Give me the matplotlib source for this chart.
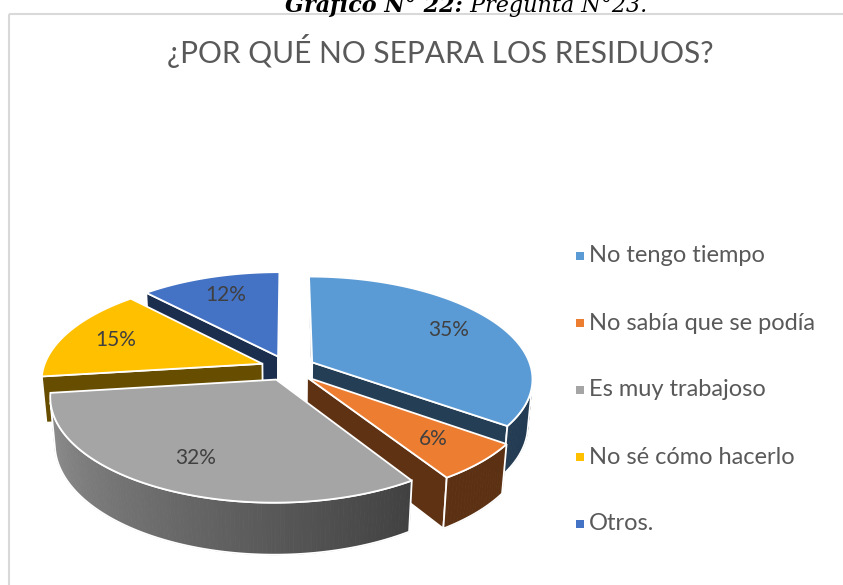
import numpy as np
import matplotlib
matplotlib.use("Agg")
import matplotlib.pyplot as plt
from matplotlib.patches import Polygon, Rectangle
from matplotlib.colors import to_rgb

# data
categories = ["No tengo tiempo", "No sabía que se podía", "Es muy trabajoso",
              "No sé cómo hacerlo", "Otros."]
percent = [35, 6, 32, 15, 12]
colors = ["#5B9BD5", "#ED7D31", "#A5A5A5", "#FFC000", "#4472C4"]
title = "¿POR QUÉ NO SEPARA LOS RESIDUOS?"
caption_bold = "Gráfico N° 22:"
caption_rest = " Pregunta N°23."

# 3d view of the pie (pixel units)
CX, CY = 288, 368
D0 = 5.83
PHI = np.radians(27.3)
F = 1277
H = 0.24
EXPLODE = 0.125


def project(u, v, z):
    d = D0 + v * np.cos(PHI) - z * np.sin(PHI)
    y = v * np.sin(PHI) + z * np.cos(PHI)
    return CX + F * u / d, CY - F * y / d


def depth(u, v, z):
    return D0 + v * np.cos(PHI) - z * np.sin(PHI)


def area(pts):
    x = np.array([p[0] for p in pts])
    y = np.array([p[1] for p in pts])
    return 0.5 * (np.dot(x, np.roll(y, -1)) - np.dot(y, np.roll(x, -1)))


def dark(col, k):
    return tuple(c * k for c in to_rgb(col))


def side_factor(t):
    t = (t + 180) % 360 - 180
    return float(np.clip(0.93 - (t + 180) / 123 * 0.54, 0.39, 0.93))


plt.rcParams["font.family"] = ["Lato", "DejaVu Sans"]
fig = plt.figure(figsize=(8.43, 5.85), dpi=100)
ax = fig.add_axes([0, 0, 1, 1])
ax.set_xlim(0, 843)
ax.set_ylim(585, 0)
ax.axis("off")

# chart border
ax.add_patch(Rectangle((9, 13.5), 900, 700, fill=False, edgecolor="#D9D9D9", lw=1.5, zorder=1))

# slices
slices = []
start = 90.0
for p, col in zip(percent, colors):
    a0 = start
    a1 = start - p * 3.6
    start = a1
    m = np.radians((a0 + a1) / 2)
    ox, oy = EXPLODE * np.cos(m), EXPLODE * np.sin(m)
    ts = np.linspace(a1, a0, max(2, int(a0 - a1) + 1))
    top3d = [(ox, oy, 0)] + [(ox + np.cos(np.radians(t)), oy + np.sin(np.radians(t)), 0) for t in ts]
    dmean = np.mean([depth(*q) for q in top3d])
    slices.append(dict(a0=a0, a1=a1, ox=ox, oy=oy, ts=ts, top=top3d, col=col, d=dmean, m=m))

z = 2
wline = dict(edgecolor="white", lw=1.3)
for s in sorted(slices, key=lambda s: -s["d"]):
    ox, oy, col = s["ox"], s["oy"], s["col"]
    c0 = (ox, oy)
    # radial faces
    for t, big in ((s["a0"], True), (s["a1"], False)):
        e = (ox + np.cos(np.radians(t)), oy + np.sin(np.radians(t)))
        if big:
            quad = [(e[0], e[1], -H), (c0[0], c0[1], -H), (c0[0], c0[1], 0), (e[0], e[1], 0)]
        else:
            quad = [(c0[0], c0[1], -H), (e[0], e[1], -H), (e[0], e[1], 0), (c0[0], c0[1], 0)]
        pts = [project(*q) for q in quad]
        if area(pts) < 0:
            ax.add_patch(Polygon(pts, closed=True, facecolor=dark(col, 0.4), zorder=z, **wline))
            z += 1
    # outer side, split in small quads
    ts = s["ts"]
    run = []
    runs = []
    for t1, t2 in zip(ts[:-1], ts[1:]):
        p1 = (ox + np.cos(np.radians(t1)), oy + np.sin(np.radians(t1)))
        p2 = (ox + np.cos(np.radians(t2)), oy + np.sin(np.radians(t2)))
        quad = [project(p1[0], p1[1], -H), project(p2[0], p2[1], -H),
                project(p2[0], p2[1], 0), project(p1[0], p1[1], 0)]
        if area(quad) < 0:
            fc = dark(col, side_factor((t1 + t2) / 2))
            ax.add_patch(Polygon(quad, closed=True, facecolor=fc, edgecolor=fc, lw=0.6, zorder=z))
            run.append((t1, t2))
        elif run:
            runs.append(run)
            run = []
    if run:
        runs.append(run)
    z += 1
    for r in runs:
        tt = [r[0][0]] + [q[1] for q in r]
        upper = [project(ox + np.cos(np.radians(t)), oy + np.sin(np.radians(t)), 0) for t in tt]
        lower = [project(ox + np.cos(np.radians(t)), oy + np.sin(np.radians(t)), -H) for t in tt]
        ax.add_patch(Polygon(upper + lower[::-1], closed=True, fill=False, zorder=z, **wline))
        z += 1

# top faces and labels
for s, p in zip(slices, percent):
    pts = [project(*q) for q in s["top"]]
    ax.add_patch(Polygon(pts, closed=True, facecolor=s["col"], zorder=50, **wline))
    lx, ly = project(s["ox"] + 0.75 * np.cos(s["m"]), s["oy"] + 0.75 * np.sin(s["m"]), 0)
    ax.text(lx, ly, f"{p}%", ha="center", va="center", fontsize=15, color="#404040", zorder=60)

# title
ax.text(440, 63, title, ha="center", va="baseline", fontsize=21.5, color="#595959")

# caption above the chart (cut by the top edge)
ax.text(463, 12, caption_bold, ha="right", va="baseline", fontsize=16,
        family="DejaVu Serif", style="italic", weight="bold", color="black")
ax.text(463, 12, caption_rest, ha="left", va="baseline", fontsize=16,
        family="DejaVu Serif", style="italic", color="black")

# legend
leg_y = 256 + 67 * np.arange(len(categories))
ax.scatter(np.full(len(categories), 580), leg_y, marker="s", s=34, c=colors, linewidths=0, zorder=70)
for yy, name in zip(leg_y, categories):
    ax.text(589, yy, name, ha="left", va="center", fontsize=17, color="#595959")

fig.savefig("out.png", dpi=100)
